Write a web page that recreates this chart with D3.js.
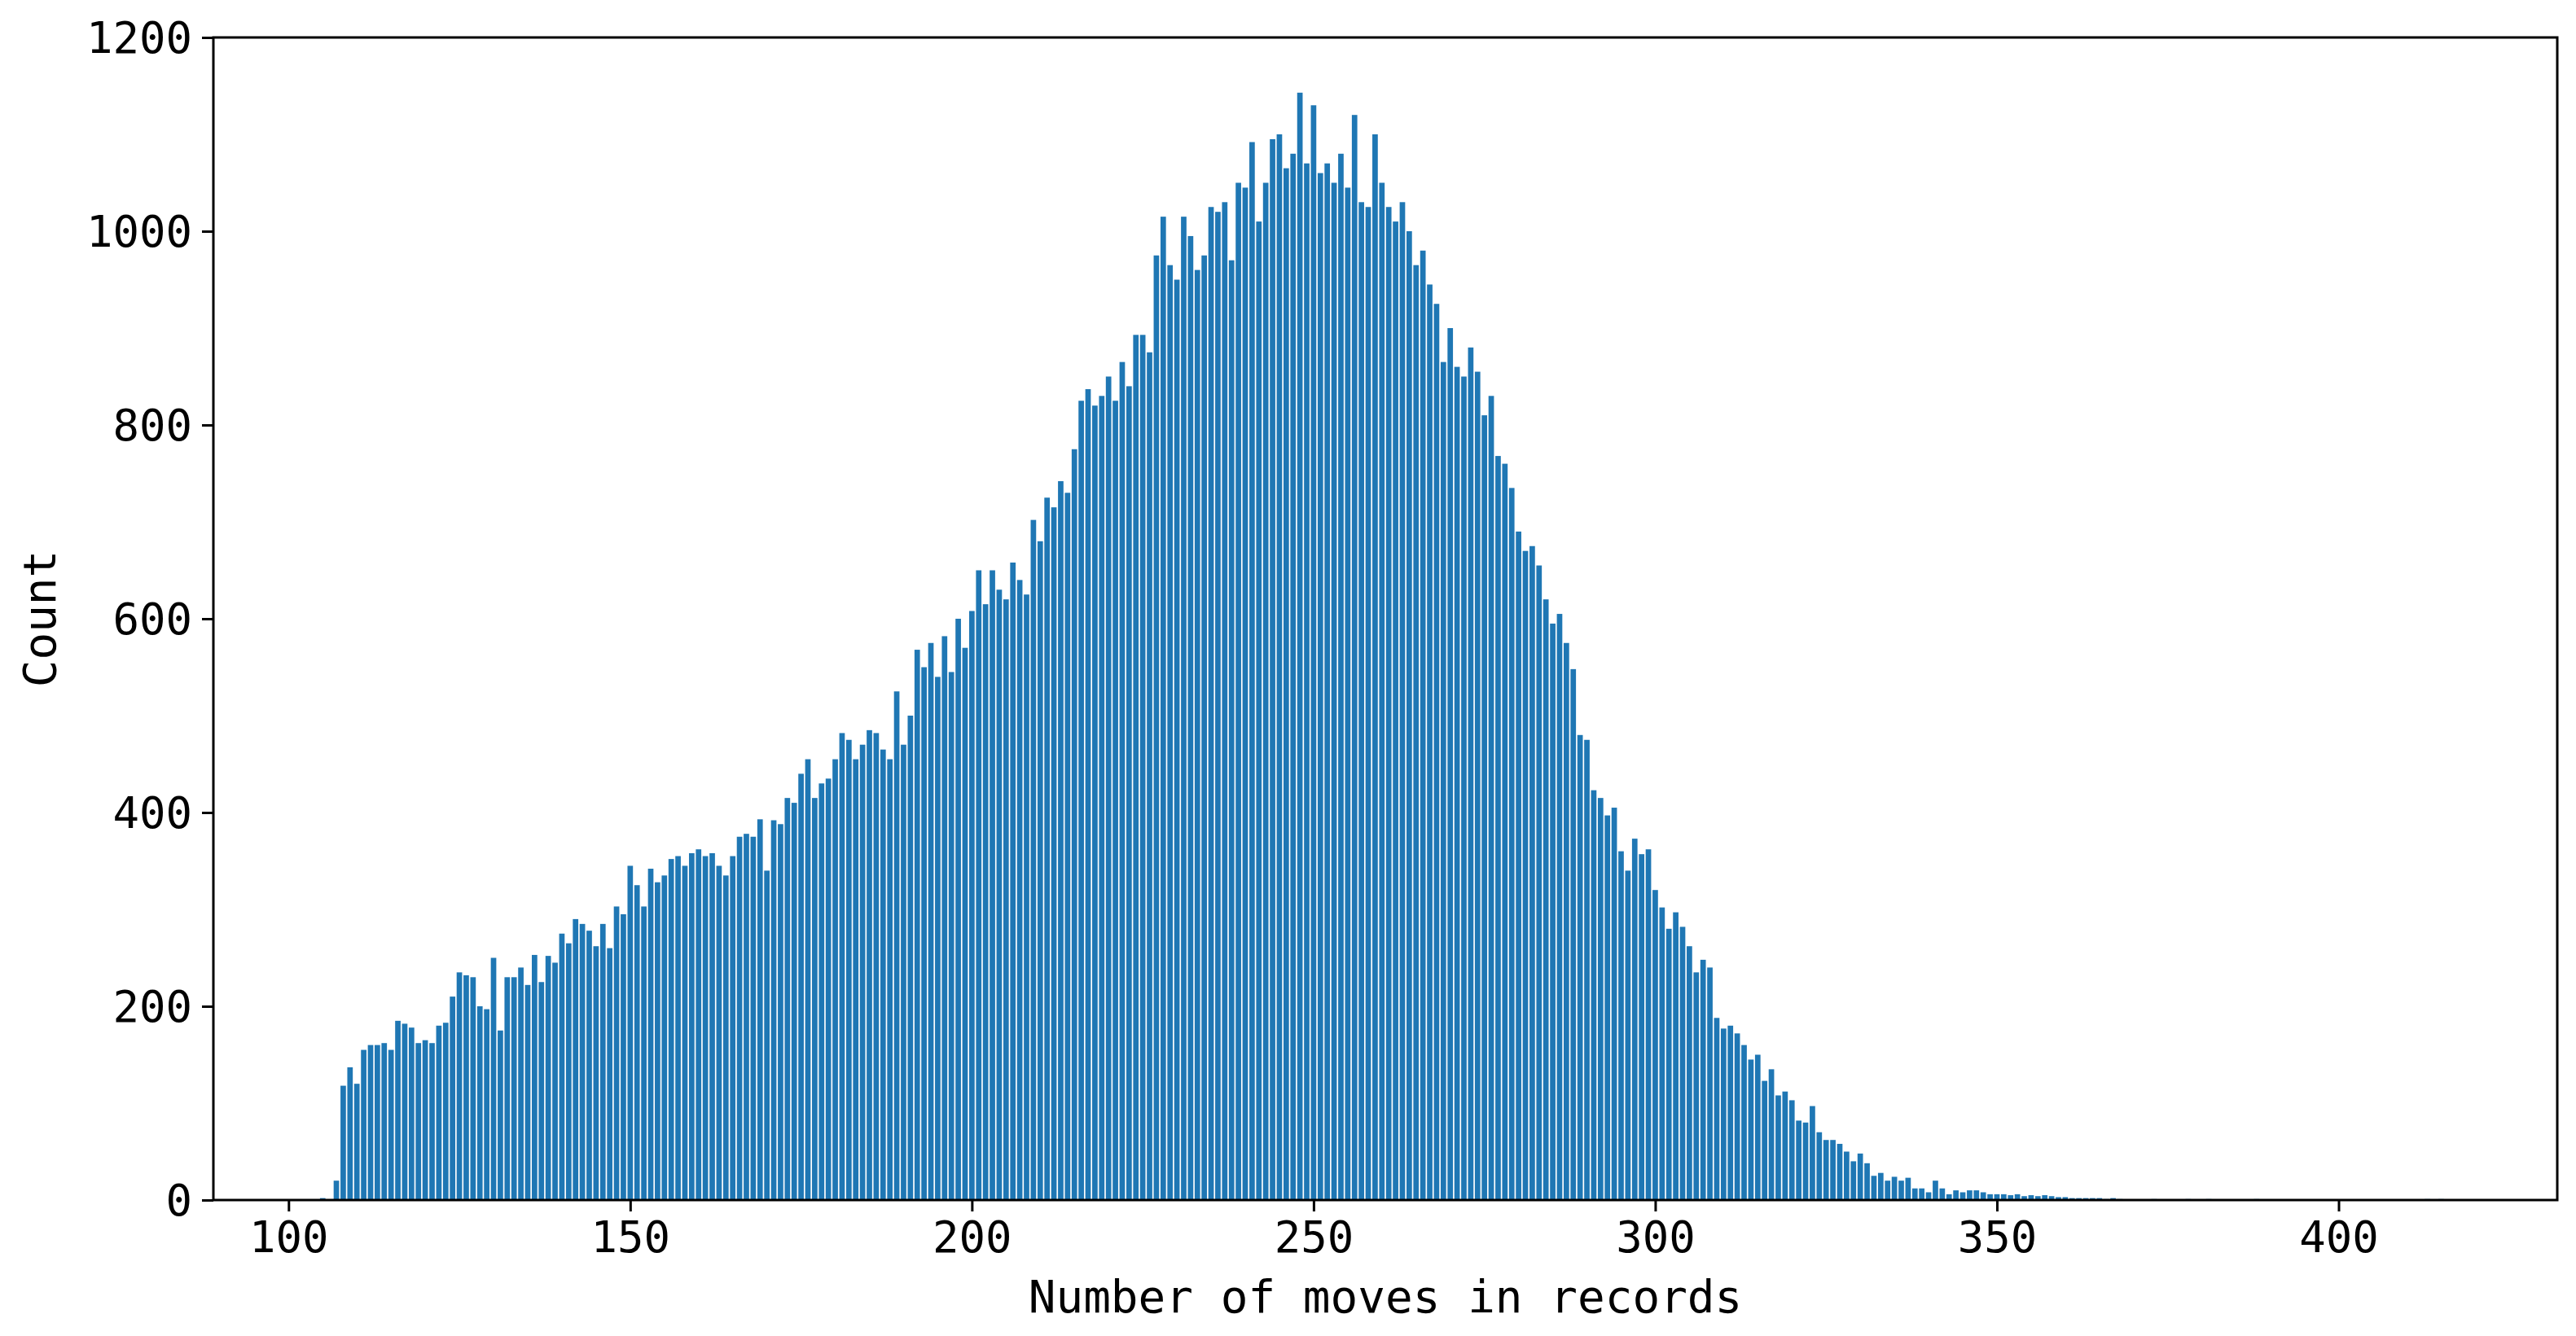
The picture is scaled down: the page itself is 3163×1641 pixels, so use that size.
<!DOCTYPE html>
<html>
<head>
<meta charset="utf-8">
<script src="https://cdn.jsdelivr.net/npm/d3@7"></script>
<style>
body { margin: 0; background: #fff; }
text { font-family: "DejaVu Sans Mono", monospace; }
</style>
</head>
<body>
<div id="chart"></div>
<script>
// moves from 105 upward, one count per move number
var start_move = 105;
var counts = [
  2, 0, 20, 118, 137, 120, 155, 160, 160, 162, 155, 185, 182, 178, 162, 165, 162, 180, 183, 210,
  235, 232, 230, 200, 197, 250, 175, 230, 230, 240, 222, 253, 225, 252, 245, 275, 265, 290, 285, 278,
  262, 285, 260, 303, 295, 345, 325, 303, 342, 328, 335, 352, 355, 345, 358, 362, 355, 358, 345, 335,
  355, 375, 378, 375, 393, 340, 392, 388, 415, 410, 440, 455, 415, 430, 435, 455, 482, 475, 455, 470,
  485, 482, 465, 455, 525, 470, 500, 568, 550, 575, 540, 582, 545, 600, 570, 608, 650, 615, 650, 630,
  620, 658, 640, 625, 702, 680, 725, 715, 742, 730, 775, 825, 837, 820, 830, 850, 825, 865, 840, 893,
  893, 875, 975, 1015, 965, 950, 1015, 995, 960, 975, 1025, 1020, 1030, 970, 1050, 1045, 1092, 1010, 1050, 1095,
  1100, 1065, 1080, 1143, 1070, 1130, 1060, 1070, 1050, 1080, 1045, 1120, 1030, 1025, 1100, 1050, 1025, 1010, 1030, 1000,
  965, 980, 945, 925, 865, 900, 860, 850, 880, 855, 810, 830, 768, 760, 735, 690, 670, 675, 655, 620,
  595, 605, 575, 548, 480, 475, 423, 415, 397, 405, 360, 340, 373, 357, 362, 320, 302, 280, 297, 282,
  262, 235, 248, 240, 188, 177, 180, 172, 160, 145, 150, 123, 135, 108, 112, 103, 82, 80, 97, 70,
  62, 62, 58, 50, 40, 48, 38, 25, 28, 20, 24, 20, 23, 12, 12, 8, 20, 12, 6, 10,
  8, 10, 10, 8, 6, 6, 6, 5, 6, 4, 5, 4, 5, 4, 3, 3, 2, 2, 2, 2,
  2, 1, 2, 1
];
var rare_moves = [373, 378, 381, 388, 413, 415];
var x_ticks = [100, 150, 200, 250, 300, 350, 400];
var y_ticks = [0, 200, 400, 600, 800, 1000, 1200];

var data = counts.map(function(c, i){ return {move: start_move + i, count: c}; });
rare_moves.forEach(function(m){ data.push({move: m, count: 1}); });

var width = 3163, height = 1641;
var plot_left = 262, plot_right = 3140, plot_top = 46, plot_bottom = 1474;

var svg = d3.select("#chart").append("svg")
  .attr("width", width).attr("height", height);

var x_scale = d3.scaleLinear().domain([89.0, 432.0]).range([plot_left, plot_right]);
var y_scale = d3.scaleLinear().domain([0, 1200]).range([plot_bottom, plot_top]);

svg.append("g").selectAll("rect").data(data).enter().append("rect")
  .attr("x", function(d){ return x_scale(d.move - 0.4); })
  .attr("width", x_scale(0.8) - x_scale(0))
  .attr("y", function(d){ return y_scale(d.count); })
  .attr("height", function(d){ return plot_bottom - y_scale(d.count); })
  .attr("fill", "#1f77b4");

var xAxis = d3.axisBottom(x_scale).tickValues(x_ticks).tickSize(14).tickPadding(12).tickFormat(d3.format("d"));
var yAxis = d3.axisLeft(y_scale).tickValues(y_ticks).tickSize(14).tickPadding(12).tickFormat(d3.format("d"));

var gx = svg.append("g").attr("transform", "translate(0," + plot_bottom + ")").call(xAxis);
var gy = svg.append("g").attr("transform", "translate(" + plot_left + ",0)").call(yAxis);
[gx, gy].forEach(function(g){
  g.select(".domain").remove();
  g.selectAll("line").attr("stroke", "#000").attr("stroke-width", 3);
  g.selectAll("text").attr("font-size", 54).attr("fill", "#000")
    .style("font-family", "'DejaVu Sans Mono', monospace");
});
gy.selectAll("text").attr("dy", "0.35em");

svg.append("rect").attr("x", plot_left).attr("y", plot_top)
  .attr("width", plot_right - plot_left).attr("height", plot_bottom - plot_top)
  .attr("fill", "none").attr("stroke", "#000").attr("stroke-width", 3);

svg.append("text").attr("x", (plot_left + plot_right) / 2).attr("y", 1612)
  .attr("text-anchor", "middle").attr("font-size", 56)
  .text("Number of moves in records");

svg.append("text")
  .attr("transform", "translate(68," + ((plot_top + plot_bottom) / 2) + ")rotate(-90)")
  .attr("text-anchor", "middle").attr("font-size", 56)
  .text("Count");
</script>
</body>
</html>
